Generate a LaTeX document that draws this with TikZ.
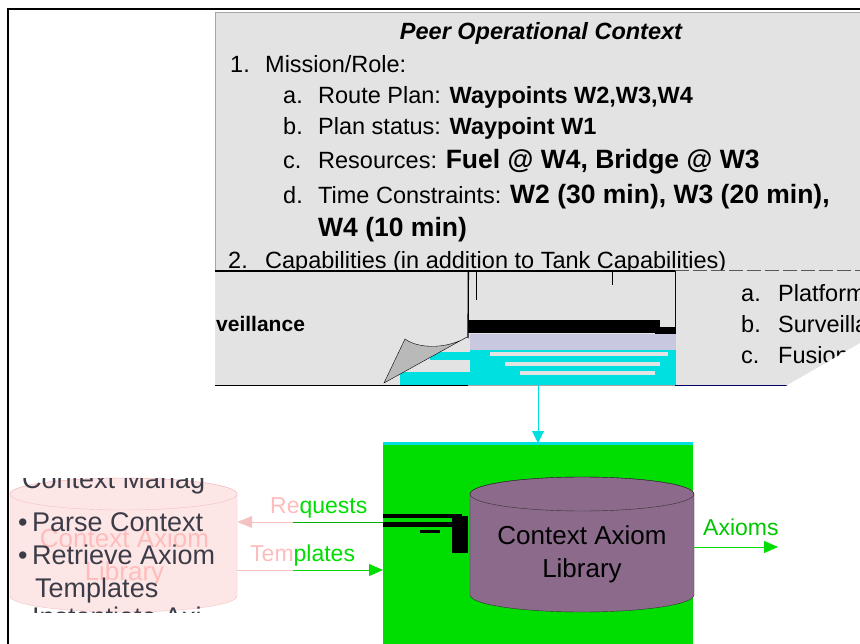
\documentclass[tikz,border=0pt]{standalone}
\usepackage{fontspec}
\setmainfont{Liberation Sans}
\usetikzlibrary{positioning,arrows.meta}

\definecolor{boxgray}{HTML}{E3E3E3}
\definecolor{glitchcyan}{HTML}{00E0E0}
\definecolor{libgreen}{HTML}{00DD00}
\definecolor{libpurple}{HTML}{8C6A8C}
\definecolor{cmfill}{HTML}{FDE6E6}
\definecolor{cmedge}{HTML}{F5C2C2}
\definecolor{cmtext}{HTML}{FFBCBC}
\definecolor{darktext}{HTML}{3C3C48}
\definecolor{lavender}{HTML}{C8C8E0}

\tikzset{>=Triangle}
\tikzset{
  txt/.style={anchor=base west, inner sep=0pt, font=\fontsize{23.5}{28}\selectfont},
  bigtxt/.style={txt, font=\fontsize{26.5}{30}\selectfont\bfseries},
  cmtxt/.style={txt, text=darktext, font=\fontsize{27}{31}\selectfont},
  panel/.style={fill=boxgray, anchor=north west, inner sep=0pt},
}

\begin{document}
\begin{tikzpicture}[x=1pt,y=-1pt]
\useasboundingbox (0,0) rectangle (860,644);

 % outer frame (only top and left show)
 \draw[line width=2.5pt] (8,644) -- (8,9) -- (860,9);

 % Peer operational context box
 \node[panel, draw=gray!70,
  minimum width=660pt,
  minimum height=373pt] (Peer) at (215,12) {};

 \node[txt, anchor=base, font=\fontsize{23.5}{28}\selectfont\bfseries\itshape] (Title) at (541,40) {Peer Operational Context};
 \node[txt] (num1) at (230,73) {1.};
 \node[txt] (Mission) at (265,73) {Mission/Role:};
 \foreach \l/\y in {a./104,b./135,c./169,d./204}
  \node[txt] (item\y) at (283,\y) {\l};
 \node[txt] (Route) at (318,104) {Route Plan: \textbf{Waypoints W2,W3,W4}};
 \node[txt] (Status) at (318,135) {Plan status: \textbf{Waypoint W1}};
 \node[txt] (Res) at (318,169) {Resources: {\fontsize{26.5}{30}\selectfont\bfseries Fuel @ W4, Bridge @ W3}};
 \node[txt] (Time) at (318,204) {Time Constraints: {\fontsize{26.5}{30}\selectfont\bfseries W2 (30 min), W3 (20 min),}};
 \node[bigtxt] (Time2) at (318,237) {W4 (10 min)};
 \node[txt] (num2) at (228,269) {2.};
 \node[txt] (Capab) at (265,269) {Capabilities (in addition to Tank Capabilities)};

 % lower panels lying over the capabilities line
 \node[panel, minimum width=253pt, minimum height=114pt] (LeftPanel) at (215,271) {};
 \node[panel, minimum width=207pt, minimum height=114pt] (MidPanel) at (468,271) {};
 \node[panel, minimum width=190pt, minimum height=114pt] (RightPanel) at (675,271) {};
 \draw[line width=1.2pt] (LeftPanel.north west) -- (MidPanel.north east);
 \draw[gray!70!black, line width=1pt, dash pattern=on 14pt off 4pt] (RightPanel.north west) -- (RightPanel.north east);
 \draw[line width=1.3pt] (LeftPanel.north east) -- (468,338);
 \draw[line width=0.8pt] (476,271) -- (476,300) (612,271) -- (612,285);
 \draw[blue!40!black] (RightPanel.north west) -- (RightPanel.south west) -- (RightPanel.south east);
 \draw (LeftPanel.south west) -- (LeftPanel.south east);

 \node[txt, font=\fontsize{21}{25}\selectfont\bfseries] (Surv) at (216,332) {veillance};

 % glitch in the middle panel
 \fill (468,320) rectangle (660,333);
 \fill (655,327) rectangle (676,340);
 \fill[lavender] (470,334) rectangle (676,350);
 \fill[glitchcyan] (470,350) rectangle (676,385);
 \fill[boxgray] (490,352) rectangle (668,356);
 \fill[boxgray] (505,362) rectangle (660,366);
 \fill[boxgray] (520,371) rectangle (655,375);
 \fill[glitchcyan] (430,352) rectangle (470,360);
 \fill[glitchcyan] (400,372) rectangle (470,385);

 % page curl
 \filldraw[fill=gray!55, draw=black] (384,383) -- (405,339)
  .. controls (420,350) and (450,348) .. (467,337) -- cycle;

 % right panel items
 \node[txt] (pa) at (741,302) {a.};
 \node[txt] (pb) at (741,333) {b.};
 \node[txt] (pc) at (741,364) {c.};
 \node[txt] (Platform) at (778,302) {Platform};
 \node[txt] (Surveil) at (778,333) {Surveilla};
 \node[txt] (Fusion) at (778,364) {Fusion};
 \fill[white] (786,386) -- (862,342) -- (862,386) -- cycle;

 % Context axiom library
 \node[panel, fill=libgreen, minimum width=310pt, minimum height=202pt] (Green) at (383,443) {};
 \draw[glitchcyan, line width=3pt] (Green.north west) -- (Green.north east);
 \fill (383,514) rectangle (462,518);
 \fill (383,522) rectangle (452,527);
 \fill (452,516) rectangle (468,553);
 \fill (420,530) rectangle (440,533);

 \filldraw[fill=libpurple, draw=black!80] (470,494) -- (470,595)
  arc[start angle=180, end angle=0, x radius=112, y radius=17] -- (694,494)
  arc[start angle=0, end angle=-180, x radius=112, y radius=17] -- cycle;
 \draw[black!80] (582,494) ellipse[x radius=112, y radius=17];
 \node[align=center, font=\fontsize{26}{33}\selectfont] (Lib) at (582,554) {Context Axiom\\Library};

 % context manager (faded)
 \filldraw[fill=cmfill, draw=cmedge] (10,494) -- (10,596)
  arc[start angle=180, end angle=0, x radius=113.5, y radius=16] -- (237,494)
  arc[start angle=0, end angle=-180, x radius=113.5, y radius=16] -- cycle;
 \draw[cmedge] (123.5,494) ellipse[x radius=113.5, y radius=16];
 \node[align=center, text=cmtext, font=\fontsize{26}{33}\selectfont] (CMLib) at (124.5,557) {Context Axiom\\Library};
 \node[inner sep=0pt, minimum width=227pt, minimum height=118pt] (CM) at (123.5,545) {};
 \begin{scope}
  \clip (10,478) rectangle (232,612);
  \node[cmtxt] (CMTitle) at (22,488) {Context Manag};
  \node[cmtxt] (Parse) at (18,531) {\textbullet\,Parse Context};
  \node[cmtxt] (Retr) at (18,564) {\textbullet\,Retrieve Axiom};
  \node[cmtxt] (Templ) at (35,597) {Templates};
  \node[cmtxt] (Inst) at (18,626) {\textbullet\,Instantiate Axi};
 \end{scope}

 % connectors
 \coordinate (split) at (293,0);
 \coordinate (req) at (0,522);
 \coordinate (tem) at (0,570);
 \coordinate (down) at (538,0);
 \draw[cmedge, ->, line width=1pt, >={Triangle[length=15pt,width=12pt]}] (Green.west |- req) -- (CM.east |- req);
 \draw[libgreen!80!black, line width=1pt] (Green.west |- req) -- (split |- req);
 \draw[cmedge, line width=1pt] (CM.east |- tem) -- (split |- tem);
 \draw[libgreen, ->, line width=1pt, >={Triangle[length=14pt,width=12pt]}] (split |- tem) -- (Green.west |- tem);
 \node[txt, font=\fontsize{23}{27}\selectfont] (Requests) at (270,513) {\textcolor{cmtext}{Re}\textcolor{libgreen}{quests}};
 \node[txt, font=\fontsize{23}{27}\selectfont] (Templates) at (250,561) {\textcolor{cmtext}{Tem}\textcolor{libgreen}{plates}};

 \draw[glitchcyan, ->, line width=1pt, >={Triangle[length=12pt,width=12pt]}] (Peer.south -| down) -- (Green.north -| down);

 \coordinate (ax) at (0,547);
 \coordinate (axend) at (778,0);
 \draw[libgreen, ->, line width=1pt, >={Triangle[length=14pt,width=12pt]}] (Green.east |- ax) -- (axend |- ax);
 \node[txt, text=libgreen!90!black, font=\fontsize{23}{27}\selectfont] (Axioms) at (703,535) {Axioms};

\end{tikzpicture}
\end{document}
